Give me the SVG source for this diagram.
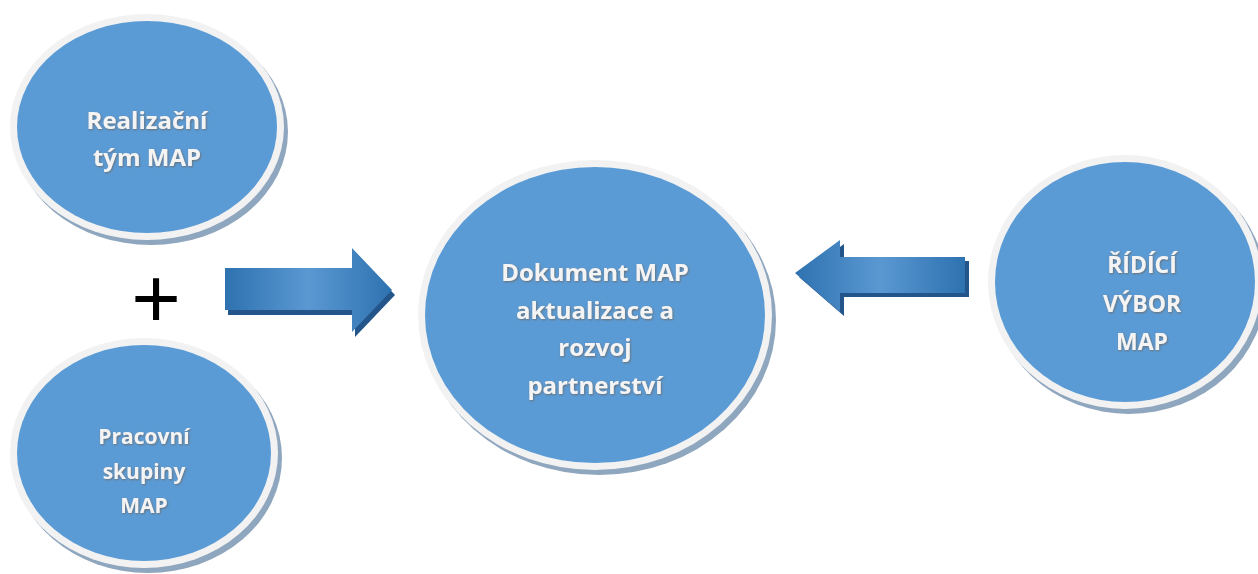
<svg xmlns="http://www.w3.org/2000/svg" width="1258" height="574" viewBox="0 0 1258 574">
  <defs>
    <style>
      .shadow { fill: #8fa6bf; }
      .ring { fill: #f2f2f2; }
      .fill { fill: #5b9bd5; }
      .lbl { font-family: "Open Sans", "Noto Sans", sans-serif; font-weight: bold; fill: #f4f4f4; text-anchor: middle; filter: url(#ts); }
      .arrow-sh { fill: #24558a; }
      .plus { font-family: "Liberation Sans", Arial, sans-serif; fill: #000; text-anchor: middle; }
    </style>
    <filter id="ts" x="-10%" y="-30%" width="120%" height="160%">
      <feDropShadow dx="0.8" dy="1" stdDeviation="0.8" flood-color="#6a6a6a" flood-opacity="0.9"/>
    </filter>
    <linearGradient id="ag" x1="0" y1="0" x2="1" y2="0">
      <stop offset="0" stop-color="#2e72b0"/>
      <stop offset="0.5" stop-color="#5a98d2"/>
      <stop offset="1" stop-color="#2e72b0"/>
    </linearGradient>
  </defs>

  <g id="connectors">
    <g id="arrow-right">
      <polygon class="arrow-sh" points="228,273 355,273 355,253 395,295 355,337 355,315 228,315"/>
      <polygon fill="url(#ag)" points="225,268 352,268 352,248 392,290 352,332 352,310 225,310"/>
    </g>
    <g id="arrow-left">
      <polygon class="arrow-sh" points="799,277 844,244 844,261 969,261 969,297 844,297 844,316"/>
      <polygon fill="url(#ag)" points="795,273 840,240 840,257 965,257 965,293 840,293 840,312"/>
    </g>
  </g>

  <g id="node-realizacni">
    <ellipse class="shadow" cx="151" cy="132" rx="137" ry="113"/>
    <ellipse class="ring" cx="147" cy="127" rx="137" ry="113"/>
    <ellipse class="fill" cx="147" cy="127" rx="130" ry="106"/>
    <text class="lbl" font-size="24" x="147" y="129">Realizační</text>
    <text class="lbl" font-size="24" x="147" y="166">tým MAP</text>
  </g>

  <g id="plus">
    <text class="plus" font-size="85" x="156" y="328">+</text>
  </g>

  <g id="node-pracovni">
    <ellipse class="shadow" cx="148" cy="458" rx="134" ry="115"/>
    <ellipse class="ring" cx="144" cy="453" rx="134" ry="115"/>
    <ellipse class="fill" cx="144" cy="453" rx="127" ry="108"/>
    <text class="lbl" font-size="21" x="144" y="444">Pracovní</text>
    <text class="lbl" font-size="21" x="144" y="479">skupiny</text>
    <text class="lbl" font-size="21" x="144" y="513">MAP</text>
  </g>

  <g id="node-dokument">
    <ellipse class="shadow" cx="599" cy="320" rx="177" ry="155"/>
    <ellipse class="ring" cx="595" cy="315" rx="177" ry="155"/>
    <ellipse class="fill" cx="595" cy="315" rx="170" ry="148"/>
    <text class="lbl" font-size="24" x="595" y="281">Dokument MAP</text>
    <text class="lbl" font-size="24" x="595" y="319">aktualizace a</text>
    <text class="lbl" font-size="24" x="595" y="356">rozvoj</text>
    <text class="lbl" font-size="24" x="595" y="394">partnerství</text>
  </g>

  <g id="node-ridici">
    <ellipse class="shadow" cx="1129" cy="287" rx="137" ry="127"/>
    <ellipse class="ring" cx="1125" cy="282" rx="137" ry="127"/>
    <ellipse class="fill" cx="1125" cy="282" rx="130" ry="120"/>
    <text class="lbl" font-size="23" x="1142" y="273">ŘÍDÍCÍ</text>
    <text class="lbl" font-size="23" x="1142" y="312">VÝBOR</text>
    <text class="lbl" font-size="23" x="1142" y="350">MAP</text>
  </g>
</svg>
